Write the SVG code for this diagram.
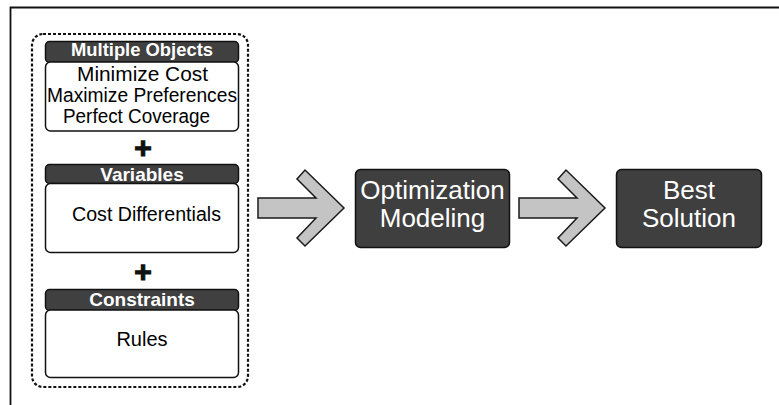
<svg xmlns="http://www.w3.org/2000/svg" width="779" height="405" viewBox="0 0 779 405">
<style>
.hdr{fill:#404040;stroke:#111;stroke-width:1.5}
.body{fill:#fff;stroke:#111;stroke-width:1.5}
.ht{font-family:"Liberation Sans",Arial,sans-serif;font-weight:bold;font-size:19px;fill:#fff;text-anchor:middle}
.bt{font-family:"Liberation Sans",Arial,sans-serif;font-size:20px;fill:#000;text-anchor:middle}
.plus{font-family:"Liberation Sans",Arial,sans-serif;font-weight:bold;font-size:30px;fill:#111;stroke:#111;stroke-width:1.2;text-anchor:middle}
.big{fill:#3f3f3f;stroke:#111;stroke-width:1.5}
.bigt{font-family:"Liberation Sans",Arial,sans-serif;font-size:26px;fill:#fff;text-anchor:middle}
.arrow{fill:#c4c4c4;stroke:#1a1a1a;stroke-width:1.5;stroke-linejoin:miter}
</style>
<rect width="779" height="405" fill="#fff"/>
<path d="M10.5 405 V7.5 H779" fill="none" stroke="#111" stroke-width="1.8"/>
<g id="inputs">
<rect x="32" y="34" width="216" height="353" rx="11" fill="none" stroke="#111" stroke-width="2.2" stroke-dasharray="3 2"/>
</g>
<g id="multiple-objects">
<rect class="hdr" x="45.5" y="41.5" width="193" height="21" rx="4"/>
<rect class="body" x="45.5" y="62" width="193" height="69" rx="5"/>
<text class="ht" x="142" y="56" textLength="142" lengthAdjust="spacingAndGlyphs">Multiple Objects</text>
<text class="bt" x="142.5" y="81" textLength="131" lengthAdjust="spacingAndGlyphs">Minimize Cost</text>
<text class="bt" x="142" y="102" textLength="190" lengthAdjust="spacingAndGlyphs">Maximize Preferences</text>
<text class="bt" x="136.5" y="123" textLength="147" lengthAdjust="spacingAndGlyphs">Perfect Coverage</text>
</g>
<g id="plus1"><text class="plus" x="143" y="158">+</text></g>
<g id="variables">
<rect class="hdr" x="45.5" y="164.5" width="193" height="19" rx="4"/>
<rect class="body" x="45.5" y="183.5" width="193" height="69" rx="5"/>
<text class="ht" x="142" y="180.5">Variables</text>
<text class="bt" x="146.5" y="220.5" textLength="149" lengthAdjust="spacingAndGlyphs">Cost Differentials</text>
</g>
<g id="plus2"><text class="plus" x="143" y="282">+</text></g>
<g id="constraints">
<rect class="hdr" x="45.5" y="289.5" width="193" height="21" rx="4"/>
<rect class="body" x="45.5" y="310" width="193" height="67.5" rx="5"/>
<text class="ht" x="142" y="305.5">Constraints</text>
<text class="bt" x="142" y="346">Rules</text>
</g>
<g id="optimization-modeling">
<rect class="big" x="355.5" y="169.5" width="154" height="78" rx="5"/>
<text class="bigt" x="432.5" y="199">Optimization</text>
<text class="bigt" x="432.5" y="227">Modeling</text>
</g>
<g id="best-solution">
<rect class="big" x="616.5" y="169.5" width="145" height="78" rx="5"/>
<text class="bigt" x="689" y="199">Best</text>
<text class="bigt" x="689" y="227">Solution</text>
</g>
<g id="connectors">
<polygon class="arrow" points="258,198 316,198 297,179 305,170 344,208 305,246 297,238 316,218 258,218"/>
<polygon class="arrow" points="519,198 577,198 558,179 566,170 605,208 566,246 558,238 577,218 519,218"/>
</g>
</svg>
